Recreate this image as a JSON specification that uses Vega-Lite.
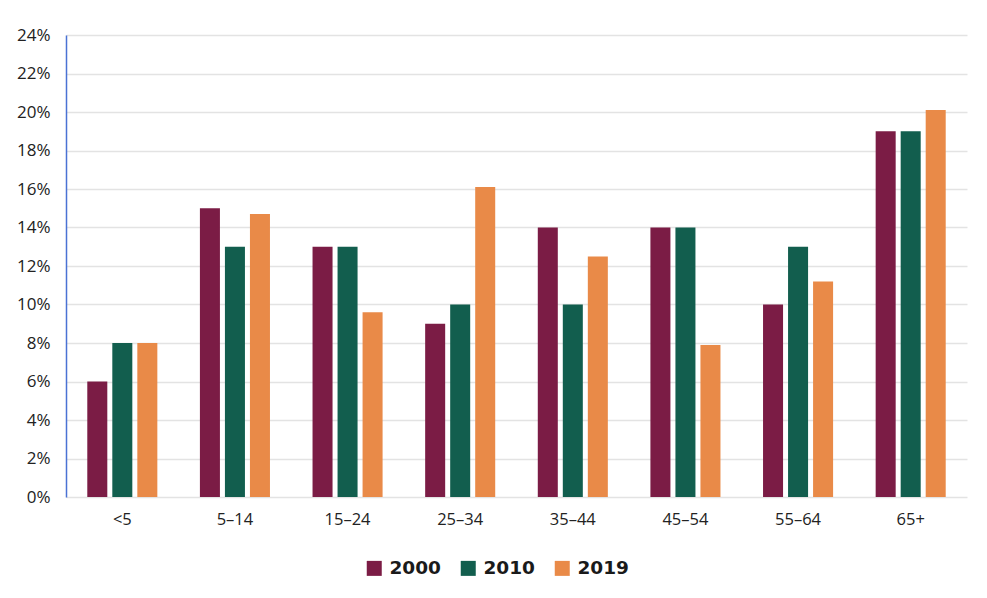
{
  "$schema": "https://vega.github.io/schema/vega-lite/v6.json",
  "width": 901,
  "height": 462,
  "autosize": {"type": "none"},
  "padding": {"left": 66, "top": 35, "right": 20, "bottom": 101},
  "background": "white",
  "data": {
    "values": [
      {"age": "<5", "year": "2000", "share": 6},
      {"age": "<5", "year": "2010", "share": 8},
      {"age": "<5", "year": "2019", "share": 8},
      {"age": "5–14", "year": "2000", "share": 15},
      {"age": "5–14", "year": "2010", "share": 13},
      {"age": "5–14", "year": "2019", "share": 14.7},
      {"age": "15–24", "year": "2000", "share": 13},
      {"age": "15–24", "year": "2010", "share": 13},
      {"age": "15–24", "year": "2019", "share": 9.6},
      {"age": "25–34", "year": "2000", "share": 9},
      {"age": "25–34", "year": "2010", "share": 10},
      {"age": "25–34", "year": "2019", "share": 16.1},
      {"age": "35–44", "year": "2000", "share": 14},
      {"age": "35–44", "year": "2010", "share": 10},
      {"age": "35–44", "year": "2019", "share": 12.5},
      {"age": "45–54", "year": "2000", "share": 14},
      {"age": "45–54", "year": "2010", "share": 14},
      {"age": "45–54", "year": "2019", "share": 7.9},
      {"age": "55–64", "year": "2000", "share": 10},
      {"age": "55–64", "year": "2010", "share": 13},
      {"age": "55–64", "year": "2019", "share": 11.2},
      {"age": "65+", "year": "2000", "share": 19},
      {"age": "65+", "year": "2010", "share": 19},
      {"age": "65+", "year": "2019", "share": 20.1}
    ]
  },
  "mark": {"type": "bar"},
  "encoding": {
    "x": {
      "field": "age",
      "type": "nominal",
      "sort": null,
      "scale": {"paddingInner": 0.378, "paddingOuter": 0.189},
      "axis": {
        "title": null,
        "labelAngle": 0,
        "domain": false,
        "ticks": false,
        "labelPadding": 14,
        "labelFontSize": 16.5,
        "labelColor": "#222222",
        "labelFont": "Open Sans"
      }
    },
    "xOffset": {
      "field": "year",
      "type": "nominal",
      "scale": {"paddingInner": 0.2, "paddingOuter": 0}
    },
    "y": {
      "field": "share",
      "type": "quantitative",
      "scale": {"domain": [0, 24], "nice": false},
      "axis": {
        "title": null,
        "values": [0, 2, 4, 6, 8, 10, 12, 14, 16, 18, 20, 22, 24],
        "labelExpr": "datum.value + '%'",
        "ticks": false,
        "domainColor": "#4a72d4",
        "domainWidth": 1.5,
        "gridColor": "#e3e3e3",
        "gridWidth": 1.5,
        "labelPadding": 16,
        "labelFontSize": 17,
        "labelColor": "#222222",
        "labelFont": "Open Sans"
      }
    },
    "color": {
      "field": "year",
      "type": "nominal",
      "scale": {
        "domain": ["2000", "2010", "2019"],
        "range": ["#7b1c45", "#125e4e", "#e98a48"]
      },
      "legend": {
        "title": null,
        "orient": "none",
        "direction": "horizontal",
        "legendX": 299,
        "legendY": 524,
        "symbolType": "square",
        "symbolSize": 225,
        "symbolStrokeWidth": 0,
        "symbolOpacity": 1,
        "labelFontSize": 18.5,
        "labelFontWeight": "bold",
        "labelFont": "DejaVu Sans",
        "labelColor": "#1a1a1a",
        "labelOffset": 6,
        "columnPadding": 18
      }
    }
  },
  "config": {
    "view": {"stroke": null}
  }
}
